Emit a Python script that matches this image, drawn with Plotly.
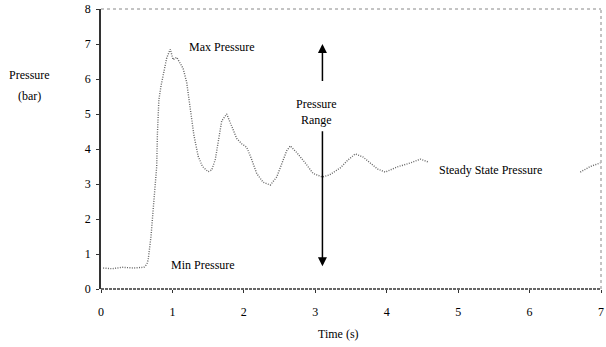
import plotly.graph_objects as go

time_s = [0.03, 0.15, 0.3, 0.45, 0.6, 0.64, 0.66, 0.7, 0.73, 0.76, 0.78, 0.79, 0.81, 0.84,
          0.87, 0.92, 0.97, 1.01, 1.06, 1.11, 1.15, 1.2, 1.25, 1.3, 1.36, 1.42, 1.5, 1.55,
          1.6, 1.64, 1.69, 1.76, 1.83, 1.9, 1.97, 2.04, 2.1, 2.18, 2.27, 2.37, 2.46, 2.54,
          2.6, 2.65, 2.74, 2.86, 2.97, 3.1, 3.2, 3.35, 3.46, 3.56, 3.67, 3.77, 3.87, 3.98,
          4.15, 4.33, 4.47, 4.58, None, 6.71, 6.85, 6.99]
pressure_bar = [0.6, 0.58, 0.62, 0.6, 0.62, 0.7, 0.83, 1.5, 2.26, 2.9, 3.5, 4.45, 5.4, 5.8,
                6.1, 6.6, 6.85, 6.55, 6.62, 6.45, 6.3, 5.9, 5.2, 4.4, 3.8, 3.5, 3.35, 3.4,
                3.7, 4.2, 4.8, 5.0, 4.65, 4.3, 4.15, 4.05, 3.75, 3.3, 3.05, 2.97, 3.2, 3.6,
                3.95, 4.09, 3.9, 3.6, 3.3, 3.2, 3.26, 3.46, 3.69, 3.86, 3.77, 3.6, 3.43, 3.34,
                3.49, 3.6, 3.71, 3.63, None, 3.34, 3.5, 3.6]

x_ticks = [0, 1, 2, 3, 4, 5, 6, 7]
y_ticks = [0, 1, 2, 3, 4, 5, 6, 7, 8]

range_x = 3.1
range_top, range_text_y, range_up_start, range_down_start, range_bottom = 7.0, 5.06, 5.9, 4.55, 0.65

FONT = "Liberation Serif, Times New Roman, DejaVu Serif, serif"
TXT = dict(family=FONT, size=12, color="black")

fig = go.Figure()
fig.add_trace(go.Scatter(x=time_s, y=pressure_bar, mode="lines",
                         line=dict(color="#666666", width=1.4, dash="1px,1.4px"),
                         connectgaps=False, showlegend=False, hoverinfo="skip"))

ann = []
ann.append(dict(x=range_x, y=range_top, ax=range_x, ay=range_up_start, xref="x", yref="y",
                axref="x", ayref="y", showarrow=True, arrowhead=2, arrowsize=1.2,
                arrowwidth=1.5, arrowcolor="black", text=""))
ann.append(dict(x=range_x, y=range_bottom, ax=range_x, ay=range_down_start, xref="x", yref="y",
                axref="x", ayref="y", showarrow=True, arrowhead=2, arrowsize=1.2,
                arrowwidth=1.5, arrowcolor="black", text=""))
ann.append(dict(x=3.02, y=range_text_y, xref="x", yref="y", text="Pressure<br>Range",
                showarrow=False, font=TXT))
ann.append(dict(x=1.7, y=6.91, xref="x", yref="y", text="Max Pressure",
                showarrow=False, font=TXT))
ann.append(dict(x=1.43, y=0.69, xref="x", yref="y", text="Min Pressure",
                showarrow=False, font=TXT))
ann.append(dict(x=5.45, y=3.4, xref="x", yref="y", text="Steady State Pressure",
                showarrow=False, font=TXT))
ann.append(dict(x=-0.144, y=0.764, xref="paper", yref="paper", text="Pressure",
                xanchor="center", yanchor="middle", showarrow=False, font=TXT))
ann.append(dict(x=-0.144, y=0.689, xref="paper", yref="paper", text="(bar)",
                xanchor="center", yanchor="middle", showarrow=False, font=TXT))
ann.append(dict(x=0.474, y=-0.16, xref="paper", yref="paper", text="Time (s)",
                xanchor="center", yanchor="middle", showarrow=False, font=TXT))

fig.update_layout(
    width=606, height=347,
    margin=dict(l=101, r=5, t=9, b=58),
    paper_bgcolor="white", plot_bgcolor="white",
    annotations=ann,
    shapes=[
        dict(type="line", xref="paper", yref="paper", x0=0, x1=1, y0=1, y1=1,
             line=dict(color="#888888", width=1, dash="dot")),
        dict(type="line", xref="paper", yref="paper", x0=1, x1=1, y0=0, y1=1,
             line=dict(color="#888888", width=1, dash="dot")),
        dict(type="line", xref="paper", yref="paper", x0=0, x1=1, y0=0, y1=0,
             line=dict(color="#333333", width=1.5, dash="3px,1px")),
    ],
    xaxis=dict(range=[0, 7], tickvals=x_ticks, ticktext=[str(v) for v in x_ticks],
               showgrid=False, zeroline=False, showline=False, automargin=False,
               ticks="outside", ticklen=3, tickcolor="#333333",
               ticklabelstandoff=9, ticklabeloverflow="allow",
               tickfont=TXT),
    yaxis=dict(range=[0, 8], tickvals=y_ticks, ticktext=[str(v) for v in y_ticks],
               showgrid=False, zeroline=False, showline=True, linecolor="#333333",
               linewidth=1.5, ticks="outside", ticklen=3, tickcolor="#333333",
               automargin=False, ticklabelstandoff=3, ticklabeloverflow="allow",
               tickfont=TXT),
)

fig.write_html("out.html", config={"displayModeBar": False},
               post_script="document.body.style.margin='0';")
